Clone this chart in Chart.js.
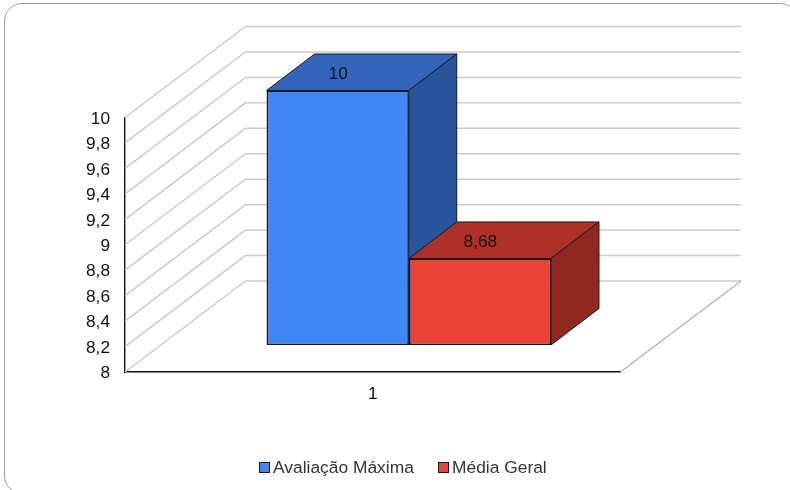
<!DOCTYPE html>
<html>
<head>
<meta charset="utf-8">
<style>
  html, body { margin: 0; padding: 0; width: 790px; height: 490px; overflow: hidden; background: #fff; }
  #frame { position: absolute; left: 4px; top: 3px; width: 792px; height: 489px; border: 1px solid #a0a0a0; border-radius: 18px; }
  #chart { position: absolute; left: 0; top: 0; }
  #legend { position: absolute; left: 259px; top: 456px; font: 17.4px "Liberation Sans", sans-serif; color: #333; white-space: nowrap; }
  #legend span { position: absolute; top: 0; line-height: 22px; }
  #legend i { position: absolute; top: 6px; width: 9px; height: 9px; border: 1px solid #1a1a1a; }
</style>
<script src="https://cdn.jsdelivr.net/npm/chart.js@4"></script>
</head>
<body>
<div id="frame"></div>
<canvas id="chart" width="790" height="490"></canvas>
<div id="legend"></div>
<script>
// data
const categories = ['1'];
const seriesNames = ['Avaliação Máxima', 'Média Geral'];
const avaliacaoMaxima = [10];
const mediaGeral = [8.68];
const yTickLabels = ['8', '8,2', '8,4', '8,6', '8,8', '9', '9,2', '9,4', '9,6', '9,8', '10'];
const valueLabels = ['10', '8,68'];

// colours: front, top, side
const blue = ['#4285f4', '#3366ba', '#2a559c'];
const red = ['#ea4335', '#ae3127', '#8f281f'];
const outline = '#14181f';
const FONT = '"Liberation Sans", sans-serif';

// oblique projection
const WALL = { dx: 120.5, dy: -91 };     // depth of the floor and walls
const OFFSET = { dx: 36, dy: -27 };      // bars stand this far into the floor
const BAR = { dx: 48, dy: -36.5 };       // depth of the bars

function poly(ctx, pts, fill, stroke) {
  ctx.beginPath();
  pts.forEach((p, i) => i ? ctx.lineTo(p[0], p[1]) : ctx.moveTo(p[0], p[1]));
  ctx.closePath();
  ctx.fillStyle = fill;
  ctx.fill();
  ctx.strokeStyle = stroke;
  ctx.lineWidth = 1;
  ctx.stroke();
}

const box3d = {
  id: 'box3d',
  beforeDatasetsDraw(chart) {
    const { ctx, chartArea: a, scales: { y } } = chart;

    // back wall and side wall lines
    ctx.save();
    ctx.strokeStyle = '#cbcbcb';
    ctx.lineWidth = 1.5;
    y.ticks.forEach(t => {
      const py = y.getPixelForValue(t.value);
      ctx.beginPath();
      ctx.moveTo(a.left, py);
      ctx.lineTo(a.left + WALL.dx, py + WALL.dy);
      ctx.lineTo(a.right + WALL.dx, py + WALL.dy);
      ctx.stroke();
    });
    // floor edge
    ctx.strokeStyle = '#b0b0b0';
    ctx.lineWidth = 1.2;
    ctx.beginPath();
    ctx.moveTo(a.right, a.bottom);
    ctx.lineTo(a.right + WALL.dx, a.bottom + WALL.dy);
    ctx.stroke();
    ctx.restore();

    // everything drawn until afterDatasetsDraw is pushed into the floor
    ctx.save();
    ctx.translate(OFFSET.dx, OFFSET.dy);
    chart.data.datasets.forEach((ds, i) => {
      const bar = chart.getDatasetMeta(i).data[0];
      const l = bar.x - bar.width / 2, r = bar.x + bar.width / 2;
      const colors = i === 0 ? blue : red;
      poly(ctx, [[l, bar.y], [r, bar.y], [r + BAR.dx, bar.y + BAR.dy], [l + BAR.dx, bar.y + BAR.dy]], colors[1], outline);
      poly(ctx, [[r, bar.y], [r + BAR.dx, bar.y + BAR.dy], [r + BAR.dx, bar.base + BAR.dy], [r, bar.base]], colors[2], outline);
    });
  },
  afterDatasetsDraw(chart) {
    const { ctx } = chart;
    ctx.fillStyle = '#111';
    ctx.font = '17.3px ' + FONT;
    ctx.textAlign = 'center';
    ctx.textBaseline = 'middle';
    chart.data.datasets.forEach((ds, i) => {
      const bar = chart.getDatasetMeta(i).data[0];
      ctx.fillText(valueLabels[i], bar.x + 0.5, bar.y - 16);
    });
    ctx.restore();
  }
};

new Chart(document.getElementById('chart'), {
  type: 'bar',
  data: {
    labels: categories,
    datasets: [
      { label: seriesNames[0], data: avaliacaoMaxima, base: 8, backgroundColor: blue[0], borderColor: outline, borderWidth: 1.5, borderSkipped: false, clip: false },
      { label: seriesNames[1], data: mediaGeral, base: 8, backgroundColor: red[0], borderColor: outline, borderWidth: 1.5, borderSkipped: false, clip: false }
    ]
  },
  options: {
    responsive: false,
    animation: false,
    layout: { padding: { top: 117.5, right: 169.5, left: 0, bottom: 0 } },
    datasets: { bar: { categoryPercentage: 0.574, barPercentage: 1 } },
    plugins: { legend: { display: false }, tooltip: { enabled: false } },
    scales: {
      x: {
        afterFit(s) { s.height = 118; },
        grid: { display: false },
        border: { color: '#111', width: 1.4 },
        ticks: { color: '#111', font: { family: FONT, size: 17.3 }, padding: 4 }
      },
      y: {
        min: 8,
        max: 10,
        afterFit(s) { s.width = 125; },
        grid: { display: false },
        border: { color: '#111', width: 1.4 },
        ticks: {
          stepSize: 0.2,
          color: '#111',
          font: { family: FONT, size: 17.3 },
          padding: 7,
          labelOffset: 1.5,
          callback: (v, i) => yTickLabels[i]
        }
      }
    }
  },
  plugins: [box3d]
});

// legend
const legendX = [[0, 14], [179, 193]];
document.getElementById('legend').innerHTML = seriesNames.map((name, i) =>
  `<i style="left:${legendX[i][0]}px;background:${i === 0 ? blue[0] : red[0]}"></i><span style="left:${legendX[i][1]}px">${name}</span>`
).join('');
</script>
</body>
</html>
